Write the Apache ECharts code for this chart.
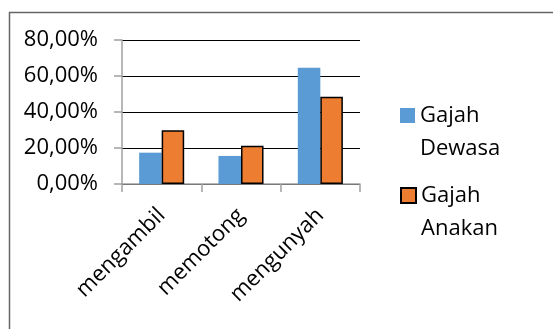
<!DOCTYPE html>
<html>
<head>
<meta charset="utf-8">
<script src="https://cdn.jsdelivr.net/npm/echarts@6/dist/echarts.min.js"></script>
<style>
html,body{margin:0;padding:0;background:#fff;}
#c{width:553px;height:329px;}
</style>
</head>
<body>
<div id="c"></div>
<script>
var categories = ['mengambil', 'memotong', 'mengunyah'];
var seriesNames = ['Gajah Dewasa', 'Gajah Anakan'];
var dewasa = [17.4, 15.6, 64.6];
var anakan = [29.8, 21.3, 48.5];
var yTicks = [0, 20, 40, 60, 80];

var FONT = '"Open Sans", sans-serif';
var chart = echarts.init(document.getElementById('c'), null, {renderer: 'canvas'});

function fmt(v) {
  return v.toFixed(2).replace('.', ',') + '%';
}
function legendFmt(name) {
  // empty first line keeps the icon beside the first word
  return '\n' + name.replace(' ', '\n');
}

var legendText = {fontFamily: FONT, fontSize: 22, color: '#000', lineHeight: 33};

chart.setOption({
  animation: false,
  backgroundColor: '#fff',
  graphic: [{
    type: 'rect', left: 7, top: 10,
    shape: {width: 620, height: 318},
    style: {fill: 'none', stroke: '#666', lineWidth: 1.5},
    silent: true
  }],
  grid: {left: 122, right: 193, top: 40, bottom: 145, containLabel: false},
  legend: [{
    data: [seriesNames[0]], orient: 'vertical', left: 400, top: 66, padding: 0,
    icon: 'rect', itemWidth: 15, itemHeight: 15, textStyle: legendText, formatter: legendFmt
  }, {
    data: [seriesNames[1]], orient: 'vertical', left: 400, top: 146, padding: 0,
    icon: 'rect', itemWidth: 15, itemHeight: 15, textStyle: legendText, formatter: legendFmt
  }],
  xAxis: {
    type: 'category', data: categories,
    axisLine: {lineStyle: {color: '#a0a0a0', width: 1.5}},
    axisTick: {show: true, length: 8, lineStyle: {color: '#a0a0a0', width: 1.5}},
    axisLabel: {rotate: 45, margin: 28, fontFamily: FONT, fontSize: 22, color: '#000', interval: 0}
  },
  yAxis: {
    type: 'value', min: yTicks[0], max: yTicks[yTicks.length - 1], interval: 20,
    axisLine: {show: true, lineStyle: {color: '#a0a0a0', width: 1.5}},
    axisTick: {show: true, length: 8, lineStyle: {color: '#a0a0a0', width: 1.5}},
    splitLine: {lineStyle: {color: '#000', width: 1.2}},
    axisLabel: {margin: 24, fontFamily: FONT, fontSize: 22, color: '#000', formatter: fmt}
  },
  series: [{
    name: seriesNames[0], type: 'bar', data: dewasa,
    barWidth: '28.4%', barGap: '0%',
    itemStyle: {color: '#5B9BD5'}
  }, {
    name: seriesNames[1], type: 'bar', data: anakan,
    barWidth: '28.4%', barGap: '0%',
    itemStyle: {color: '#ED7D31', borderColor: '#000', borderWidth: 1.5}
  }]
});
</script>
</body>
</html>
